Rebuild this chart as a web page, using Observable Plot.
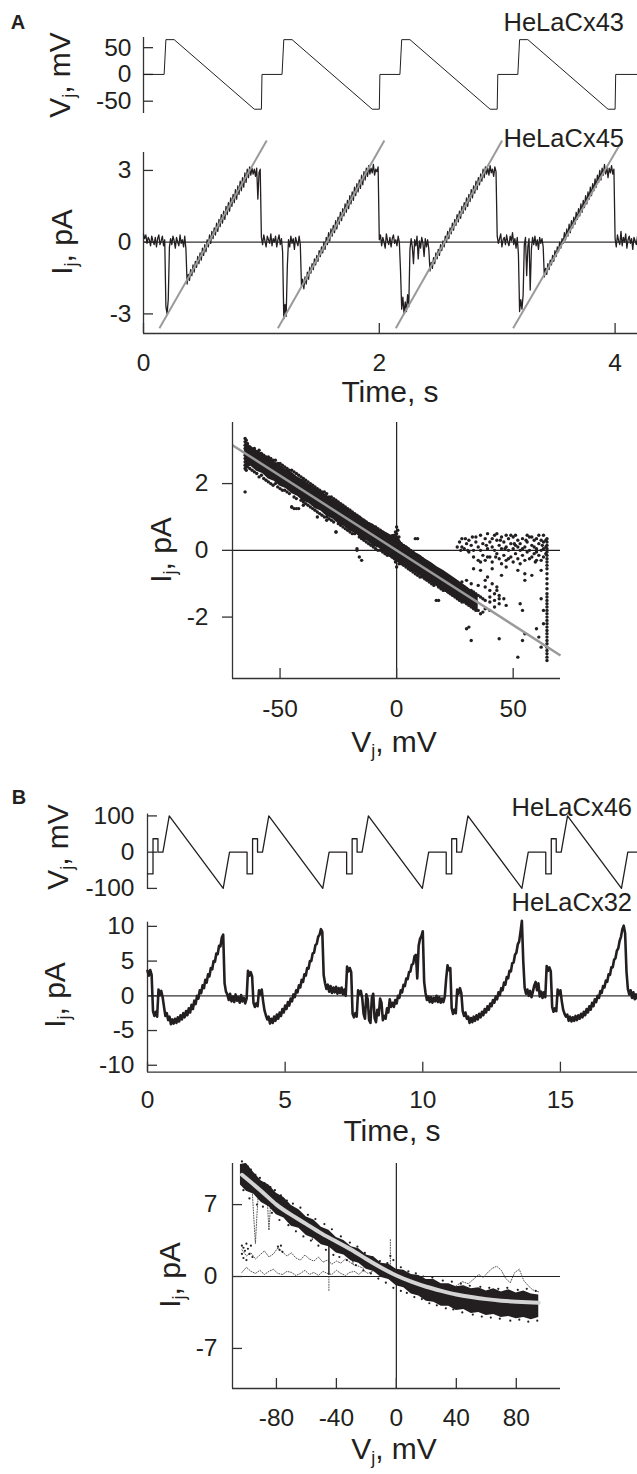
<!DOCTYPE html>
<html><head><meta charset="utf-8">
<script src="https://cdn.jsdelivr.net/npm/d3@7"></script>
<script src="https://cdn.jsdelivr.net/npm/@observablehq/plot@0.6"></script>
<style>
body{margin:0;background:#fff}
#wrap{position:relative;width:637px;height:1474px;overflow:hidden;font-family:"Liberation Sans",Arial,Helvetica,sans-serif;color:#231f20;background:#fff}
.lab{position:absolute;white-space:nowrap;line-height:1}
.lab sub{font-size:0.6em;vertical-align:-0.3em;line-height:0}
</style></head>
<body><div id="wrap"></div>
<script>
// ---------------- DATA ----------------
// Panel A: voltage protocol (time s, Vj mV)
const vjA_t = [0,0.175,0.19,0.26,0.94,1.0,1.005,1.175,1.19,1.26,1.94,2.0,2.005,2.175,2.19,2.26,2.94,3.0,3.005,3.175,3.19,3.26,3.94,4.0,4.005,4.19];
const vjA_v = [0,0,65,65,-65,-65,0,0,65,65,-65,-65,0,0,65,65,-65,-65,0,0,65,65,-65,-65,0,0];
const a1Ticks = [-50,0,50];

// Panel A: junctional current, sampled every 10 ms, one array per 1-s cycle
const dtA = 0.01;
const ijA_c0 = [0.35,0.15,0.30,-0.05,0.20,0.10,-0.15,0.25,0.05,-0.10,
0.20,-0.20,0.15,0.30,-0.10,0.05,0.25,-0.15,0.10,-2.70,
-3.00,-2.40,-0.20,0.15,-0.10,0.25,0.05,-0.25,0.20,0.00,
-0.15,0.30,-0.05,0.10,-0.20,0.25,-0.30,-1.75,-1.35,-1.60,
-1.15,-1.40,-0.95,-1.25,-0.80,-1.05,-0.60,-0.90,-0.45,-0.75,
-0.25,-0.55,-0.10,-0.40,0.10,-0.20,0.30,-0.05,0.45,0.15,
0.60,0.30,0.80,0.45,0.95,0.65,1.15,0.80,1.30,0.95,
1.50,1.15,1.65,1.30,1.85,1.50,2.00,1.65,2.20,1.80,
2.35,2.00,2.55,2.15,2.70,2.30,2.90,2.50,3.05,2.70,
3.15,2.80,3.10,2.85,3.05,2.75,3.10,1.80,2.90,3.05];
const ijA_c1 = [0.20,-0.10,0.30,0.05,-0.20,0.25,0.10,-0.05,0.35,-0.15,
0.15,0.00,0.25,-0.20,0.10,0.30,-0.10,0.15,-0.40,-3.20,
-2.60,-3.10,-1.00,0.10,-0.20,0.25,-0.05,0.15,-0.30,0.20,
0.00,-0.15,0.25,-0.10,-1.85,-1.55,-1.95,-1.45,-1.75,-1.25,
-1.55,-1.05,-1.30,-0.90,-1.15,-0.70,-0.95,-0.55,-0.80,-0.35,
-0.60,-0.20,-0.45,0.00,-0.30,0.20,-0.10,0.40,0.05,0.55,
0.25,0.70,0.40,0.90,0.55,1.05,0.75,1.25,0.90,1.40,
1.10,1.60,1.25,1.75,1.40,1.95,1.60,2.10,1.75,2.30,
1.95,2.45,2.10,2.60,2.25,2.80,2.40,2.95,2.60,3.10,
2.75,3.20,2.85,3.10,2.90,3.25,2.80,3.05,2.95,3.15];
const ijA_c2 = [0.10,0.30,-0.15,0.20,0.00,-0.25,0.35,0.05,-0.10,0.20,
-0.20,0.15,0.30,-0.05,0.10,-0.15,0.25,0.00,-1.20,-2.80,
-2.30,-3.00,-2.50,-2.90,-2.20,-2.70,-0.30,0.15,-0.20,-0.90,
0.10,-0.15,0.25,-0.70,0.05,-0.25,0.20,-0.05,-0.60,0.15,
-0.20,0.10,-0.30,-1.20,-0.85,-1.10,-0.65,-0.90,-0.45,-0.70,
-0.30,-0.55,-0.10,-0.35,0.05,-0.20,0.25,0.00,0.45,0.15,
0.60,0.35,0.80,0.50,0.95,0.70,1.15,0.85,1.30,1.00,
1.50,1.20,1.65,1.35,1.85,1.50,2.00,1.70,2.20,1.85,
2.35,2.05,2.55,2.20,2.70,2.40,2.85,2.55,3.05,2.70,
3.15,2.85,3.10,2.80,3.20,2.90,3.05,2.75,3.15,2.95];
const ijA_c3 = [0.25,-0.05,0.15,0.35,-0.20,0.10,0.20,-0.10,0.30,0.00,
-0.15,0.25,0.05,0.40,-0.10,0.15,-0.25,0.20,-0.50,-2.90,
-2.40,-2.80,-2.20,-0.10,0.20,-1.40,-0.20,0.15,-2.00,-0.30,
0.20,-0.10,0.25,-0.15,0.10,-0.30,0.20,-0.05,0.15,-0.20,
-1.45,-1.10,-1.35,-0.90,-1.15,-0.75,-0.95,-0.55,-0.80,-0.35,
-0.60,-0.20,-0.40,0.00,-0.25,0.15,-0.05,0.40,0.10,0.55,
0.25,0.75,0.40,0.90,0.60,1.05,0.75,1.25,0.95,1.40,
1.10,1.60,1.25,1.75,1.45,1.95,1.60,2.10,1.80,2.30,
1.95,2.45,2.15,2.65,2.30,2.80,2.50,3.00,2.60,3.10,
2.80,3.25,2.85,3.15,2.70,3.10,2.90,3.20,2.85,3.05];
const ijA_tail = [0.15,-0.20,0.30,0.05,-0.10,0.45,-0.15,0.20,0.00,0.35,-0.25,0.10,0.25,-0.05,0.15,-0.30,0.20,0.05,-0.10,0.25];
const a2Ticks = [-3,0,3];
const a2XTicks = [0,2,4];
// linear fits over each ramp (start/end time, start/end current)
const fitA_t0 = [0.135,1.14,2.14,3.135];
const fitA_t1 = [1.045,2.043,3.042,4.06];
const fitA_i0 = [-3.6,-3.6,-3.6,-3.6];
const fitA_i1 = [4.25,4.25,4.25,4.25];

// Panel A: I-V scatter (Vj mV, Ij pA)
const a3BandV = [-65,-62.5,-60,-57.5,-55,-52.5,-50,-47.5,-45,-42.5,-40,-37.5,-35,-32.5,-30,-27.5,-25,-22.5,-20,-17.5,-15,-12.5,-10,-7.5,-5,-2.5,0,2.5,5,7.5,10,12.5,15,17.5,20,22.5,25,27.5,30,32.5,35];
const a3BandLo = [2.45,2.52,2.37,2.30,2.14,2.07,1.92,1.85,1.70,1.62,1.47,1.40,1.25,1.18,1.02,0.95,0.80,0.72,0.58,0.50,0.35,0.28,0.12,0.06,-0.10,-0.22,-0.35,-0.43,-0.54,-0.66,-0.76,-0.88,-0.98,-1.10,-1.20,-1.32,-1.42,-1.52,-1.62,-1.74,-1.80];
const a3BandHi = [3.25,3.12,3.00,2.90,2.78,2.66,2.56,2.43,2.34,2.20,2.11,1.98,1.88,1.76,1.66,1.53,1.44,1.30,1.22,1.08,1.00,0.86,0.78,0.64,0.56,0.46,0.50,0.20,0.10,-0.04,-0.14,-0.27,-0.37,-0.50,-0.60,-0.72,-0.84,-0.96,-1.08,-1.22,-1.36];
const a3Open = [[-65,3.35],[-65,3.25],[-65,3.15],[-65,3.05],[-65,2.95],[-65,2.85],[-65,2.75],[-65,2.65],[-65,2.55],[-65,2.45],[-65,1.75],[-64.5,3.3],[-64.5,3.0],[-64.5,2.7],[-64.5,2.4],
[-64,3.2],[-64,2.5],[-63,2.45],[-63,3.1],[-62,3.0],[-62,2.4],[-61,2.35],[-61,3.05],[-60,2.95],[-60,2.3],[-59,2.2],[-59,3.0],[-58,2.9],[-58,2.25],[-57,2.15],[-57,2.85],[-56,2.8],[-56,2.1],[-55,2.05],[-55,2.8],[-54,2.75],[-54,2.0],[-53,1.95],[-53,2.7],[-52,2.7],[-52,2.0],[-51,1.9],[-51,2.6],[-50,2.6],[-50,1.85],[-49,1.8],[-49,2.55],[-48,2.5],[-48,1.8],[-47,1.75],[-47,2.45],[-46,2.4],[-46,1.7],[-45,1.3],[-45,2.4],[-44,2.35],[-44,1.6],[-43,1.55],[-43,2.3],[-42,2.25],[-42,1.25],[-41,1.5],[-41,2.2],[-40,2.15],[-40,1.45],[-39,1.4],[-39,2.1],[-38,2.05],[-38,1.35],[-37,1.3],[-37,2.0],[-36,1.95],[-36,1.25],[-35,1.2],[-35,1.9],[-34,1.85],[-34,1.15],[-33,1.1],[-33,1.8],[-32,1.75],[-32,1.05],[-31,1.0],[-31,1.75],[-30,1.7],[-30,1.0],[-29,0.95],[-29,1.6],[-28,1.6],[-28,0.9],[-27,0.85],[-27,1.55],[-26,0.55],[-26,1.5],[-25,1.45],[-25,0.8],[-24,0.75],[-24,1.4],[-23,1.35],[-23,0.7],[-22,0.65],[-22,1.3],[-21,1.25],[-21,0.6],[-20,0.55],[-20,1.2],[-19,1.15],[-19,0.5],[-18,0.5],[-18,1.1],[-17,0.0],[-17,1.05],[-16,1.0],[-16,0.4],[-15,0.35],[-15,-0.3],[-14,0.9],[-14,0.3],[-13,0.25],[-13,0.85],[-12,0.8],[-12,0.2],[-11,0.15],[-11,0.75],[-10,0.7],[-10,0.1],[-9,0.05],[-9,0.7],[-8,0.65],[-8,0.0],[-7,0.0],[-7,0.6],[-6,0.55],[-6,-0.05],[-5,-0.1],[-5,0.5],[-4,0.45],[-4,-0.15],[-3,-0.15],[-3,0.4],[-2,0.4],[-2,-0.2],[-1,-0.25],[-1,0.35],
[0,0.7],[0,0.5],[0,0.3],[0,0.1],[0,-0.1],[0,-0.3],[0,-0.5],[0.5,0.6],[0.5,0.2],[0.5,-0.2],[1,0.4],[1,-0.4],[-0.5,0.55],[-0.5,-0.35],
[1,0.25],[2,-0.4],[2,0.2],[3,0.15],[3,-0.45],[4,-0.5],[4,0.1],[5,0.05],[5,-0.55],[6,-0.6],[6,0.0],[7,-0.05],[7,-0.65],[8,-0.7],[8,0.35],[9,-0.15],[9,-0.75],[10,-0.8],[10,-0.2],[11,-0.25],[11,-0.8],[12,-0.85],[12,-0.3],[13,-0.35],[13,-0.9],[14,-0.95],[14,-0.4],[15,-0.45],[15,-1.0],[16,-1.05],[16,-0.5],[17,-1.5],[17,-0.55],[18,-0.6],[18,-1.1],[19,-1.15],[19,-0.65],[20,-0.7],[20,-1.2],[21,-1.2],[21,-0.75],[22,-0.8],[22,-1.25],[23,-1.3],[23,-0.85],[24,-0.9],[24,-1.35],[25,-1.4],[25,-0.9],[26,-0.95],[26,-1.45],[27,-1.5],[27,-1.0],[28,-1.05],[28,-1.55],[29,-1.55],[29,-1.1],[30,-1.15],[30,-1.6],[31,-1.65],[31,-1.2],[32,-1.2],[32,-1.7],[33,-1.75],[33,-1.25],[34,-1.3],[34,-1.8],[35,-1.8],[35,-1.35],[36,-1.4],[36,-1.9],[37,-1.85],[37,-1.45],[38,-1.5],[38,-1.75],[40,-1.55],[40,-1.8],[42,-1.5],[42,-1.7],[44,-1.45],[44,-1.6],
[28,-0.95],[30,-0.9],[32,-1.0],[35,-1.05],[38,-1.1],[40,-1.2],[42,-1.3],[44,-1.35],[39,-0.8],[41,-1.0],[43,-1.1]];
const a3Closed = [[27,0.25],[28,0.1],[28,0.35],[29,0.05],[30,0.2],[31,-0.05],[31,0.3],[32,0.15],[33,0.0],[33,-0.2],[34,0.25],[35,0.1],[35,-0.3],[36,0.45],[36,0.0],[37,-0.15],[37,0.2],[38,0.35],[38,-0.3],[39,0.05],[39,0.5],[40,-0.2],[40,0.25],[41,0.1],[41,-0.35],[42,0.45],[42,0.0],[43,-0.1],[43,0.3],[44,0.15],[44,-0.25],[45,0.05],[45,0.4],[46,-0.15],[46,0.25],[47,0.1],[47,-0.3],[48,0.35],[48,0.0],[49,-0.2],[49,0.2],[50,0.05],[50,-0.35],[50,0.4],[51,0.15],[51,-0.1],[52,0.3],[52,-0.25],[53,0.0],[53,0.2],[54,-0.15],[54,0.35],[55,0.1],[55,-0.3],[56,0.25],[56,-0.05],[57,0.4],[57,0.0],[58,-0.2],[58,0.15],[59,0.3],[59,-0.1],[60,0.05],[60,0.35],[60,-0.3],[61,0.2],[61,-0.15],[62,0.3],[62,0.0],[63,-0.2],[63,0.25],[64,0.1],[64,-0.1],[64,0.3],
[34,0.4],[36,-0.35],[39,-0.2],[41,0.35],[43,0.5],[45,-0.4],[47,0.45],[48,-0.25],[49,0.45],[51,0.45],[52,0.1],[53,-0.4],[54,0.05],[56,0.45],[57,-0.25],[58,0.4],[59,0.1],[60,-0.05],[61,0.45],[62,-0.3],[63,0.05],[63,0.45],[62.5,0.15],[59.5,-0.35],[55.5,0.3],[50.5,0.2],[46.5,0.05],[44.5,0.3],[42.5,-0.2],[38.5,0.15],[29.5,0.35],[30.5,0.0],[32.5,0.4],[26,0.1],[27.5,0.0],
[33,-0.55],[36,-0.6],[41,-0.55],[38,-0.9],[45,-0.75],[47,-0.5],[55,-0.7],[58,-0.75],[62,-0.6],[46,-1.45],[47,-1.65],[43,-1.2],[40,-1.4]];
const a3ColumnV = 64.5;
const a3ColumnI = [0.35,0.25,0.15,0.05,-0.05,-0.15,-0.25,-0.35,-0.45,-0.55,-0.7,-0.85,-1.0,-1.15,-1.3,-1.4,-1.5,-1.6,-1.7,-1.8,-1.9,-2.0,-2.1,-2.2,-2.3,-2.4,-2.5,-2.6,-2.7,-2.8,-2.9,-3.0,-3.1,-3.2,-3.3];
const a3Outliers = [[30,-2.35],[31,-2.3],[32,-2.7],[44,-2.65],[52,-3.2],[53,-1.6],[54,-1.8],[54,-2.7],[55,-2.5],[60,-2.35],[61,-2.6],[62,-1.45],[52,-0.6],[55,-0.9],[18,-1.5],[-26,0.55],[-16,-0.2],[-17,0.05],[-45,1.3],[-44,1.25],[-43,1.25],[-40,1.35],[-34,1.0],[-30,0.9],[9,0.35],[63,-1.8],[63,-2.2],[62,-2.9]];
const a3FitV = [-70.4,70.3];
const a3FitI = [3.15,-3.15];
const a3YTicks = [-2,0,2];
const a3XTicks = [-50,0,50];

// Panel B: voltage protocol
const vjB_t = [0,0.2,0.2,0.38,0.38,0.56,0.79,2.75,2.98,
3.617,3.617,3.817,3.817,3.997,3.997,4.177,4.407,6.367,6.597,
7.234,7.234,7.434,7.434,7.614,7.614,7.794,8.024,9.984,10.214,
10.851,10.851,11.051,11.051,11.231,11.231,11.411,11.641,13.601,13.831,
14.468,14.468,14.668,14.668,14.848,14.848,15.028,15.258,17.218,17.448,17.8];
const vjB_v = [-60,-60,37,37,0,0,100,-100,0,
0,-60,-60,37,37,0,0,100,-100,0,
0,-60,-60,37,37,0,0,100,-100,0,
0,-60,-60,37,37,0,0,100,-100,0,
0,-60,-60,37,37,0,0,100,-100,0,0];
const b1Ticks = [-100,0,100];

// Panel B: junctional current, sampled every 50 ms, one array per cycle
const dtB = 0.05;
const ijB_start = [0,3.65,7.25,10.90,14.50];
const ijB_c1 = [3.6,2.9,3.7,3.0,-2.2,-2.9,-2.3,-3.0,0.9,0.1,
0.7,-0.2,-1.6,-2.9,-2.5,-3.5,-3.0,-4.1,-3.4,-4.0,
-3.3,-3.9,-3.1,-3.7,-2.8,-3.4,-2.5,-3.1,-2.2,-2.8,
-1.8,-2.4,-1.3,-1.9,-0.7,-1.2,0.0,-0.4,0.8,0.4,
1.5,1.1,2.3,1.9,3.1,2.8,4.0,3.8,5.0,4.9,
6.1,6.0,7.2,7.1,8.4,8.8,1.8,0.6,0.2,-0.6,
0.3,-0.8,-0.1,-0.9,0.2,-0.7,-0.2,-1.0,0.1,-0.8,
-0.3,-1.1,-0.4];
const ijB_c2 = [3.6,2.9,3.4,2.8,-1.0,-1.6,-1.1,-1.5,0.8,0.2,
0.9,-0.8,-2.1,-2.8,-3.4,-3.0,-4.0,-3.3,-3.9,-3.0,
-3.6,-2.7,-3.3,-2.4,-2.9,-1.9,-2.4,-1.4,-1.9,-0.9,
-1.4,-0.4,-0.8,0.2,-0.2,0.8,0.5,1.5,1.2,2.3,
2.0,3.1,2.9,4.0,3.9,5.0,5.0,6.1,6.2,7.3,
7.5,8.5,8.8,9.6,9.2,3.0,1.8,1.0,1.6,0.6,
1.4,0.4,1.2,0.5,1.3,0.3,1.1,0.4,1.2,0.2,
0.9,0.0];
const ijB_c3 = [4.2,3.5,4.0,3.4,-2.6,-3.1,-2.5,-3.0,0.8,0.2,
0.7,-0.3,-2.6,-3.3,0.2,-0.5,-3.5,-3.9,-0.3,0.3,
-3.2,-3.8,-2.0,-2.8,-0.4,-1.0,-3.5,-2.9,-3.3,-1.8,
-2.4,-0.5,-1.6,-1.0,-1.6,-0.6,-1.1,0.0,-0.3,0.8,
0.5,1.6,1.4,2.5,2.4,3.4,3.5,4.5,4.6,5.7,
5.9,2.5,7.2,8.2,8.6,9.3,2.0,0.4,-0.6,-0.1,
-0.9,-0.2,-1.0,-0.3,-0.8,0.0,-0.9,-0.2,-1.0,-0.4,
-0.9,-0.1,2.5];
const ijB_c4 = [4.4,3.7,4.0,-1.8,-2.6,-2.0,-2.5,0.9,0.3,1.1,
0.4,-2.2,-2.9,-2.4,-3.3,-3.0,-3.9,-3.2,-3.8,-3.0,
-3.6,-2.8,-3.4,-2.6,-3.1,-2.3,-2.8,-1.9,-2.4,-1.5,
-2.0,-1.1,-1.5,-0.6,-1.0,-0.1,-0.5,0.5,0.1,1.1,
0.8,1.9,1.6,2.7,2.5,3.6,3.5,4.7,4.8,5.9,
6.2,7.4,7.8,9.2,10.8,5.0,1.2,0.3,0.9,0.0,
0.7,-0.2,0.6,1.5,2.0,0.8,1.8,-0.1,0.6,-0.3,
0.5,-0.2];
const ijB_c5 = [4.3,3.6,4.1,3.5,-1.6,-2.3,-1.8,-2.2,0.9,0.2,
0.8,-0.8,-2.0,-2.6,-3.0,-2.7,-3.6,-3.0,-3.7,-3.1,
-3.6,-2.9,-3.5,-2.8,-3.3,-2.6,-3.1,-2.3,-2.8,-1.9,
-2.4,-1.5,-2.0,-1.0,-1.5,-0.5,-0.9,0.0,-0.3,0.7,
0.4,1.4,1.2,2.2,2.0,3.1,3.0,4.1,4.1,5.2,
5.4,6.5,6.8,7.9,8.5,9.6,10.1,9.0,3.5,1.0,
0.2,0.8,-0.3,0.5,-0.5,0.2,-0.4];
const b2YTicks = [-10,-5,0,5,10];
const b2XTicks = [0,5,10,15];

// Panel B: I-V relation
const b3BandV = [-104,-100,-95,-90,-85,-80,-75,-70,-65,-60,-55,-50,-45,-40,-35,-30,-25,-20,-15,-10,-5,0,5,10,15,20,25,30,35,40,45,50,55,60,65,70,75,80,85,90,95];
const b3BandLo = [8.9,8.3,8.0,7.2,6.8,6.0,5.7,4.9,4.7,4.0,3.7,3.1,2.9,2.3,2.1,1.5,1.3,0.7,0.5,-0.1,-0.3,-0.9,-1.1,-1.7,-1.9,-2.4,-2.5,-2.9,-2.9,-3.3,-3.2,-3.6,-3.5,-3.8,-3.7,-4.0,-3.9,-4.1,-4.0,-4.2,-4.0];
const b3BandHi = [10.9,11.0,10.1,9.3,8.9,8.1,7.7,6.9,6.5,5.8,5.5,4.8,4.5,3.8,3.5,2.9,2.7,2.1,1.9,1.3,1.2,0.7,0.6,0.2,0.1,-0.3,-0.3,-0.7,-0.7,-1.0,-0.9,-1.2,-1.1,-1.4,-1.2,-1.5,-1.3,-1.6,-1.4,-1.7,-1.8];
const b3Speckle = [[-103,11.2],[-101,10.9],[-99,10.7],[-97,10.4],[-94,9.9],[-91,9.6],[-88,9.1],[-84,8.7],[-81,8.4],[-77,7.9],[-73,7.4],[-69,7.1],[-64,6.7],[-59,6.0],[-54,5.6],[-48,5.1],[-43,4.6],[-37,3.9],[-31,3.3],[-26,2.9],[-21,2.3],[-16,1.9],[-11,1.5],[-6,1.3],[-2,1.6],[-4,2.0],[3,0.9],[8,0.5],[13,0.3],[18,0.0],[24,-0.1],[31,-0.4],[37,-0.5],[43,-0.7],[49,-0.9],[56,-1.0],[62,-1.1],[68,-1.2],[74,-1.1],[81,-1.3],[87,-1.2],[93,-1.4],
[-102,8.4],[-98,7.6],[-93,7.0],[-89,6.8],[-83,6.2],[-78,5.5],[-72,5.0],[-67,4.4],[-62,3.9],[-57,3.5],[-52,3.0],[-47,2.6],[-42,2.1],[-38,1.9],[-33,1.6],[-27,1.1],[-22,0.6],[-17,0.3],[-12,-0.2],[-7,-0.6],[-2,-1.1],[3,-1.4],[7,-1.6],[12,-2.0],[17,-2.2],[22,-2.6],[27,-2.8],[33,-3.1],[38,-3.2],[44,-3.5],[51,-3.7],[57,-3.9],[63,-4.0],[69,-4.1],[76,-4.3],[82,-4.2],[88,-4.4],[94,-4.3],
[-103,3.0],[-103,2.2],[-102,2.8],[-102,1.8],[-101,2.5],[-100,3.2],[-100,1.6],[-99,2.7],[-98,2.2],[-97,3.0],[-96,1.9],[-78,2.6],[-77,3.0],[-76,2.4],[-79,2.9]];
const b3CurveV = [-103,-90,-80,-70,-60,-50,-40,-30,-20,-10,0,10,20,30,40,50,60,70,80,95];
const b3CurveI = [9.9,8.3,7.0,6.0,5.1,4.2,3.4,2.6,1.7,0.85,0.1,-0.5,-1.0,-1.4,-1.75,-2.0,-2.2,-2.35,-2.45,-2.55];
const b3ExLowV = [-103,-100,-97,-94,-91,-88,-85,-82,-79,-76,-73,-70,-67,-64,-61,-58,-55,-52,-49,-46,-43,-40,-37,-34,-31,-28,-25,-22,-19,-16,-13];
const b3ExLowI = [0.4,0.9,0.5,0.3,0.6,0.2,0.5,0.7,0.3,0.2,0.5,0.4,0.1,0.3,0.6,0.2,0.4,0.1,0.5,0.3,0.2,0.6,0.3,0.1,0.4,0.5,0.2,0.6,0.3,0.5,0.7];
const b3ExUpV = [-103,-100,-97,-94,-91,-88,-85,-82,-79,-76,-73,-70,-67,-64,-61,-58,-55,-52,-49,-46,-43,-40,-37,-34,-31,-28,-25,-22,-19,-16,-13,-10];
const b3ExUpI = [2.6,2.0,2.3,1.7,2.1,2.5,1.9,2.2,2.8,2.4,2.0,2.3,1.8,1.6,2.1,1.7,1.5,1.9,1.4,1.6,1.2,1.5,1.3,1.7,1.4,1.1,1.0,0.8,1.2,0.9,0.7,0.6];
const b3ExRightV = [35,40,44,48,52,55,58,61,64,67,70,73,76,79,82,85,88,91,95];
const b3ExRightI = [-1.2,-0.9,-0.5,-0.7,-0.2,0.2,-0.1,0.4,0.8,1.0,0.6,-0.2,-0.6,0.4,0.7,-0.4,-0.9,-1.3,-1.5];
const b3Drops = [[[-96,8.0],[-95,5.5],[-94,3.2],[-93,6.0],[-92,8.2]],[[-86,7.2],[-85,4.5],[-84,6.8]],[[-57,5.2],[-56,3.5],[-55,5.0]],[[-30,2.8],[-29,1.2],[-28,2.6]],[[-4,-0.3],[-4,3.6]],[[-45,0.0],[-45,-1.4]]];
const b3Spike = [{v:-45, i1:0.1, i2:3.4}];
const b3YTicks = [-7,0,7];
const b3XTicks = [-80,-40,0,40,80];

// ---------------- DRAWING ----------------
const wrap = document.getElementById("wrap");
const FONT = '"Liberation Sans", Arial, Helvetica, sans-serif';
const INK = "#231f20";
const AX = "#333333";
const W = 637;
const baseStyle = {fontFamily: FONT, fontSize: "24px", color: INK, background: "transparent", overflow: "visible"};

function place(svg, top) {
  svg.style.position = "absolute";
  svg.style.left = "0px";
  svg.style.top = top + "px";
  wrap.appendChild(svg);
}
function label(html, x, y, o = {}) {
  const d = document.createElement("div");
  d.className = "lab";
  d.innerHTML = html;
  d.style.fontSize = (o.size || 24) + "px";
  if (o.bold) d.style.fontWeight = "bold";
  d.style.left = x + "px";
  d.style.top = y + "px";
  const tx = o.anchor === "end" ? "-100%" : o.anchor === "start" ? "0" : "-50%";
  d.style.transform = `translate(${tx},-50%)` + (o.rotate ? " rotate(-90deg)" : "");
  wrap.appendChild(d);
}
const pts = (arr) => arr.map(([v, i]) => ({v, i}));

// A1
{
  const data = vjA_t.map((t, k) => ({t, v: vjA_v[k]}));
  const mL = 143, h = 125, mT = 37, mB = 12;
  place(Plot.plot({
    width: W, height: h, marginTop: mT, marginBottom: mB, marginLeft: mL, marginRight: 0,
    x: {domain: [0, 4.19], axis: null}, y: {domain: [-73, 69], axis: null},
    style: baseStyle,
    marks: [
      Plot.ruleX([0], {stroke: AX, strokeWidth: 1.3}),
      Plot.tickY(a1Ticks, {y: d => d, stroke: AX, strokeWidth: 1.3, insetRight: W - mL - 10}),
      Plot.axisY({ticks: a1Ticks, tickSize: 0, tickPadding: 12, tickFormat: d => String(d), label: null, fontSize: 24.5}),
      Plot.line(data, {x: "t", y: "v", stroke: INK, strokeWidth: 1})
    ]
  }), 0);
}
// A2
{
  const cycles = [ijA_c0, ijA_c1, ijA_c2, ijA_c3, ijA_tail];
  const data = cycles.flatMap((arr, k) => arr.map((v, j) => ({t: k + j * dtA, i: v})));
  const fits = fitA_t0.map((t0, k) => ({t0, t1: fitA_t1[k], i0: fitA_i0[k], i1: fitA_i1[k]}));
  const mL = 143, h = 290, mT = 27, mB = 82, yDom = [-3.82, 3.75];
  place(Plot.plot({
    width: W, height: h, marginTop: mT, marginBottom: mB, marginLeft: mL, marginRight: 0,
    x: {domain: [0, 4.19], axis: null}, y: {domain: yDom, axis: null},
    style: baseStyle,
    marks: [
      Plot.ruleY([0], {stroke: AX, strokeWidth: 1.3}),
      Plot.ruleX([0], {stroke: AX, strokeWidth: 1.3}),
      Plot.ruleY([yDom[0]], {stroke: AX, strokeWidth: 1.3}),
      Plot.tickY(a2Ticks, {y: d => d, stroke: AX, strokeWidth: 1.3, insetRight: W - mL - 10}),
      Plot.tickX(a2XTicks, {x: d => d, stroke: AX, strokeWidth: 1.3, insetTop: h - mT - mB - 10}),
      Plot.axisY({ticks: a2Ticks, tickSize: 0, tickPadding: 12, tickFormat: d => String(d), label: null, fontSize: 24.5}),
      Plot.axisX({ticks: a2XTicks, tickSize: 0, tickPadding: 20, tickFormat: d => String(d), label: null, fontSize: 24.5}),
      Plot.line(data, {x: "t", y: "i", stroke: INK, strokeWidth: 1.3}),
      Plot.link(fits, {x1: "t0", y1: "i0", x2: "t1", y2: "i1", stroke: "#9a9a9a", strokeWidth: 2})
    ]
  }), 125);
}
// A3
{
  const band = a3BandV.map((v, k) => ({v, lo: a3BandLo[k], hi: a3BandHi[k]}));
  const column = a3ColumnI.map(i => ({v: a3ColumnV, i}));
  const fit = [{v1: a3FitV[0], i1: a3FitI[0], v2: a3FitV[1], i2: a3FitI[1]}];
  const mL = 232, mR = 77, h = 360, mT = 7, mB = 97;
  const xDom = [-70.4, 70.3], yDom = [-3.84, 3.83];
  const dotOpt = {x: "v", y: "i", r: 1.7, fill: INK, stroke: null};
  place(Plot.plot({
    width: W, height: h, marginTop: mT, marginBottom: mB, marginLeft: mL, marginRight: mR,
    x: {domain: xDom, axis: null}, y: {domain: yDom, axis: null},
    style: baseStyle,
    marks: [
      Plot.ruleX([0], {stroke: INK, strokeWidth: 1.2}),
      Plot.ruleY([0], {stroke: INK, strokeWidth: 1.2}),
      Plot.areaY(band, {x: "v", y1: "lo", y2: "hi", fill: INK}),
      Plot.dot(pts(a3Open), dotOpt),
      Plot.dot(pts(a3Closed), dotOpt),
      Plot.dot(column, dotOpt),
      Plot.dot(pts(a3Outliers), dotOpt),
      Plot.link(fit, {x1: "v1", y1: "i1", x2: "v2", y2: "i2", stroke: "#9a9a9a", strokeWidth: 2.5}),
      Plot.ruleX([xDom[0]], {stroke: AX, strokeWidth: 1.3}),
      Plot.ruleY([yDom[0]], {stroke: AX, strokeWidth: 1.3}),
      Plot.tickX(a3XTicks, {x: d => d, stroke: AX, strokeWidth: 1.3, insetTop: h - mT - mB - 10}),
      Plot.axisY({ticks: a3YTicks, tickSize: 10, tickPadding: 14, tickFormat: d => String(d), label: null, fontSize: 24.5, stroke: AX, strokeWidth: 1.3}),
      Plot.axisX({ticks: a3XTicks, tickSize: 0, tickPadding: 21, tickFormat: d => String(d), label: null, fontSize: 24.5})
    ]
  }), 415);
}
// B1
{
  const data = vjB_t.map((t, k) => ({t, v: vjB_v[k]}));
  const mL = 147, h = 120, mT = 38.6, mB = 6;
  place(Plot.plot({
    width: W, height: h, marginTop: mT, marginBottom: mB, marginLeft: mL, marginRight: 0,
    x: {domain: [0, 17.8], axis: null}, y: {domain: [-103, 105], axis: null},
    style: baseStyle,
    marks: [
      Plot.ruleX([0], {stroke: AX, strokeWidth: 1.3}),
      Plot.tickY(b1Ticks, {y: d => d, stroke: AX, strokeWidth: 1.3, insetRight: W - mL - 10}),
      Plot.axisY({ticks: b1Ticks, tickSize: 0, tickPadding: 13, tickFormat: d => String(d), label: null, fontSize: 24.5}),
      Plot.line(data, {x: "t", y: "v", stroke: INK, strokeWidth: 1.3})
    ]
  }), 775);
}
// B2
{
  const cycles = [ijB_c1, ijB_c2, ijB_c3, ijB_c4, ijB_c5];
  const data = cycles.flatMap((arr, k) => arr.map((v, j) => ({t: ijB_start[k] + j * dtB, i: v})));
  const mL = 147, h = 250, mT = 26.7, mB = 73.3, yDom = [-11, 10.6];
  place(Plot.plot({
    width: W, height: h, marginTop: mT, marginBottom: mB, marginLeft: mL, marginRight: 0,
    x: {domain: [0, 17.8], axis: null}, y: {domain: yDom, axis: null},
    style: baseStyle,
    marks: [
      Plot.ruleY([0], {stroke: AX, strokeWidth: 1.3}),
      Plot.ruleX([0], {stroke: AX, strokeWidth: 1.3}),
      Plot.ruleY([yDom[0]], {stroke: AX, strokeWidth: 1.3}),
      Plot.tickY(b2YTicks, {y: d => d, stroke: AX, strokeWidth: 1.3, insetRight: W - mL - 10}),
      Plot.tickX(b2XTicks, {x: d => d, stroke: AX, strokeWidth: 1.3, insetTop: h - mT - mB - 10}),
      Plot.axisY({ticks: b2YTicks, tickSize: 0, tickPadding: 13, tickFormat: d => String(d), label: null, fontSize: 24.5}),
      Plot.axisX({ticks: b2XTicks, tickSize: 0, tickPadding: 18, tickFormat: d => String(d), label: null, fontSize: 24.5}),
      Plot.line(data, {x: "t", y: "i", stroke: INK, strokeWidth: 2.6, strokeLinejoin: "round"})
    ]
  }), 895);
}
// B3
{
  const band = b3BandV.map((v, k) => ({v, lo: b3BandLo[k], hi: b3BandHi[k]}));
  const curve = b3CurveV.map((v, k) => ({v, i: b3CurveI[k]}));
  const exLow = b3ExLowV.map((v, k) => ({v, i: b3ExLowI[k]}));
  const exUp = b3ExUpV.map((v, k) => ({v, i: b3ExUpI[k]}));
  const exRight = b3ExRightV.map((v, k) => ({v, i: b3ExRightI[k]}));
  const drops = b3Drops.flatMap((seg, s) => seg.map(([v, i]) => ({v, i, s})));
  const mL = 232, mR = 77, h = 329, mT = 18, mB = 86;
  const xDom = [-109.3, 109.5], yDom = [-10.9, 11.0];
  const dotted = {stroke: "#444", strokeWidth: 0.9, strokeDasharray: "1,1.6"};
  place(Plot.plot({
    width: W, height: h, marginTop: mT, marginBottom: mB, marginLeft: mL, marginRight: mR,
    x: {domain: xDom, axis: null}, y: {domain: yDom, axis: null},
    style: baseStyle,
    marks: [
      Plot.ruleX([0], {stroke: INK, strokeWidth: 1.2}),
      Plot.ruleY([0], {stroke: INK, strokeWidth: 1.2}),
      Plot.line(exLow, {x: "v", y: "i", ...dotted}),
      Plot.line(exUp, {x: "v", y: "i", ...dotted}),
      Plot.line(exRight, {x: "v", y: "i", ...dotted}),
      Plot.line(drops, {x: "v", y: "i", z: "s", ...dotted}),
      Plot.ruleX(b3Spike, {x: "v", y1: "i1", y2: "i2", stroke: INK, strokeWidth: 1.5}),
      Plot.areaY(band, {x: "v", y1: "lo", y2: "hi", fill: INK}),
      Plot.dot(pts(b3Speckle), {x: "v", y: "i", r: 1.1, fill: INK, stroke: null}),
      Plot.line(curve, {x: "v", y: "i", curve: "natural", stroke: "#d4d4d4", strokeWidth: 4}),
      Plot.ruleX([xDom[0]], {stroke: AX, strokeWidth: 1.3}),
      Plot.ruleY([yDom[0]], {stroke: AX, strokeWidth: 1.3}),
      Plot.tickY(b3YTicks, {y: d => d, stroke: AX, strokeWidth: 1.3, insetRight: W - mL - mR - 10}),
      Plot.tickX(b3XTicks, {x: d => d, stroke: AX, strokeWidth: 1.3, insetTop: h - mT - mB - 10}),
      Plot.axisY({ticks: b3YTicks, tickSize: 0, tickPadding: 15, tickFormat: d => String(d), label: null, fontSize: 24.5}),
      Plot.axisX({ticks: b3XTicks, tickSize: 0, tickPadding: 20, tickFormat: d => String(d), label: null, fontSize: 24.5})
    ]
  }), 1145);
}

// ---------------- TEXT ----------------
label("A", 18, 22, {size: 20, bold: true});
label("HeLaCx43", 624, 23, {size: 25.5, anchor: "end"});
label("V<sub>j</sub>, mV", 60, 75, {size: 30, rotate: true});
label("HeLaCx45", 624, 139, {size: 25.5, anchor: "end"});
label("I<sub>j</sub>, pA", 62, 242, {size: 30, rotate: true});
label("Time, s", 390, 392, {size: 30});
label("I<sub>j</sub>, pA", 161, 550, {size: 30, rotate: true});
label("V<sub>j</sub>, mV", 394, 742, {size: 30});
label("B", 19, 797, {size: 20, bold: true});
label("HeLaCx46", 632, 808, {size: 25.5, anchor: "end"});
label("V<sub>j</sub>, mV", 58, 847, {size: 30, rotate: true});
label("HeLaCx32", 632, 903, {size: 25.5, anchor: "end"});
label("I<sub>j</sub>, pA", 55, 995, {size: 30, rotate: true});
label("Time, s", 392, 1131, {size: 30});
label("I<sub>j</sub>, pA", 170, 1275, {size: 30, rotate: true});
label("V<sub>j</sub>, mV", 394, 1449, {size: 30});
</script>
</body></html>
